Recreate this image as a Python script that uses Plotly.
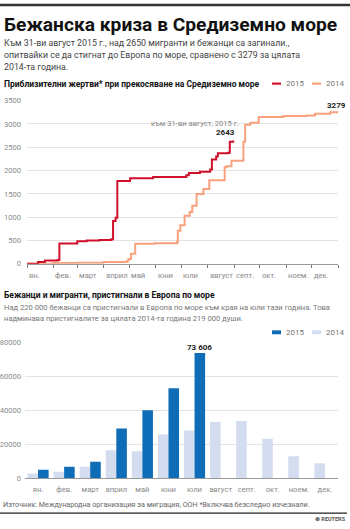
import plotly.graph_objects as go

# ---- data ----
months = ["ян.", "фев.", "март", "април", "май", "юни", "юли", "август", "септ.", "окт.", "ноем.", "дек."]
month_start_days = [0, 31, 59, 90, 120, 151, 181, 212, 243, 273, 304, 334]

days_2015 = [0, 13, 21, 36, 38, 59, 70, 85, 99, 101, 104, 106, 121, 148, 187, 190, 203, 215, 217, 222, 224, 236, 238, 242]
deaths_2015 = [0, 40, 70, 80, 434, 485, 500, 510, 527, 920, 990, 1777, 1834, 1861, 1897, 1946, 1973, 2024, 2235, 2304, 2374, 2380, 2620, 2643]

days_2014 = [0, 30, 60, 90, 117, 119, 122, 127, 150, 176, 177, 180, 185, 191, 194, 199, 207, 214, 232, 234, 240, 254, 256, 262, 272, 301, 328, 338, 356, 365]
deaths_2014 = [0, 15, 25, 40, 55, 105, 217, 428, 440, 464, 708, 828, 1033, 1109, 1244, 1497, 1602, 1792, 2072, 2093, 2213, 2620, 2985, 3027, 3147, 3168, 3183, 3217, 3253, 3279]

arrivals_2014 = [2900, 3900, 6900, 16500, 16000, 25800, 28100, 33200, 33800, 23300, 13100, 8900]
arrivals_2015 = [5200, 6900, 9800, 29400, 40000, 53000, 73606]

deaths_ticks = [0, 500, 1000, 1500, 2000, 2500, 3000, 3500]
arrivals_ticks = [0, 20000, 40000, 60000, 80000]

W, H = 350, 529
def px(x): return x / W
def py(y): return 1 - y / H

RED = "#d0112b"
ORANGE = "#f8a17c"
DARKBLUE = "#0f6cb6"
LIGHTBLUE = "#d3ddef"
GRID = "#e3e3e3"
TICK = "#8a8a8a"
FONT = "Roboto"

fig = go.Figure()
fig.add_trace(go.Scatter(x=days_2014, y=deaths_2014, mode="lines", line=dict(color=ORANGE, width=2, shape="hv"),
                         xaxis="x", yaxis="y", showlegend=False, hoverinfo="skip"))
fig.add_trace(go.Scatter(x=days_2015, y=deaths_2015, mode="lines", line=dict(color=RED, width=2, shape="hv"),
                         xaxis="x", yaxis="y", showlegend=False, hoverinfo="skip"))

fig.add_trace(go.Bar(x=months, y=arrivals_2014, marker=dict(color=LIGHTBLUE, line=dict(width=0)),
                     xaxis="x2", yaxis="y2", showlegend=False, hoverinfo="skip"))
fig.add_trace(go.Bar(x=months[:len(arrivals_2015)], y=arrivals_2015, marker=dict(color=DARKBLUE, line=dict(width=0)),
                     xaxis="x2", yaxis="y2", showlegend=False, hoverinfo="skip"))

annotations = []
def txt(x, y, s, size, color="#333", bold=False, anchor="left", xref="paper", yref="paper", yanchor="middle", xshift=0):
    annotations.append(dict(x=x, y=y, xref=xref, yref=yref, text=("<b>%s</b>" % s) if bold else s,
                            showarrow=False, xanchor=anchor, yanchor=yanchor, xshift=xshift,
                            font=dict(family=FONT, size=size, color=color)))

txt(px(2), py(21), "Бежанска криза в Средиземно море", 19.2, "#111", bold=True)
txt(px(2), py(40), "Към 31-ви август 2015 г., над 2650 мигранти и бежанци са загинали.,", 8.8, "#444")
txt(px(2), py(52), "опитвайки се да стигнат до Европа по море, сравнено с 3279 за цялата", 8.8, "#444")
txt(px(2), py(64), "2014-та година.", 8.8, "#444")
txt(px(2), py(81), "Приблизителни жертви* при прекосяване на Средиземно море", 8.5, "#111", bold=True)
txt(px(284), py(81), "2015", 8, "#777")
txt(px(324), py(81), "2014", 8, "#777")

# month labels (left aligned at ticks)
for m, d in zip(months, month_start_days):
    txt(d, py(276), m, 7.6, TICK, xref="x")

txt(px(241), py(122), "към 31-ви август, 2015 г.", 7.6, "#888", anchor="right")
txt(px(237), py(131), "2643", 8, "#222", bold=True, anchor="right")
txt(px(348), py(103), "3279", 8, "#222", bold=True, anchor="right")

txt(px(2), py(296), "Бежанци и мигранти, пристигнали в Европа по море", 8.5, "#111", bold=True)
txt(px(2), py(309), "Над 220 000 бежанци са пристигнали в Европа по море към края на юли тази година. Това", 7.6, "#777")
txt(px(2), py(320), "надминава пристигналите за цялата 2014-та година 219 000 души.", 7.6, "#777")
txt(px(284), py(334), "2015", 8, "#777")
txt(px(324), py(334), "2014", 8, "#777")
txt("юли", py(349), "73 606", 8, "#222", bold=True, anchor="center", xref="x2", xshift=5)

txt(px(1), py(509), "Източник: Международна организация за миграция, ООН *Включва безследно изчезнали.", 7.2, "#666")
txt(px(348), py(524), "⊛ REUTERS", 5.5, "#555", bold=True, anchor="right")

shapes = [
    dict(type="line", xref="paper", yref="paper", x0=0, x1=1, y0=py(1), y1=py(1), line=dict(color="#333", width=2.5)),
    dict(type="line", xref="paper", yref="paper", x0=0, x1=px(347), y0=py(518), y1=py(518), line=dict(color="#222", width=1.2)),
    dict(type="line", xref="paper", yref="paper", x0=px(272), x1=px(281), y0=py(81), y1=py(81), line=dict(color=RED, width=2.2)),
    dict(type="line", xref="paper", yref="paper", x0=px(312), x1=px(321), y0=py(81), y1=py(81), line=dict(color=ORANGE, width=2.2)),
    dict(type="rect", xref="paper", yref="paper", x0=px(272), x1=px(281), y0=py(336), y1=py(332), fillcolor=DARKBLUE, line=dict(width=0)),
    dict(type="rect", xref="paper", yref="paper", x0=px(312), x1=px(321), y0=py(336), y1=py(332), fillcolor=LIGHTBLUE, line=dict(width=0)),
]

fig.update_layout(
    width=W, height=H, margin=dict(l=0, r=0, t=0, b=0),
    paper_bgcolor="white", plot_bgcolor="white",
    barmode="group", bargap=0.19, bargroupgap=0,
    font=dict(family=FONT, size=8, color=TICK),
    annotations=annotations, shapes=shapes,
    xaxis=dict(domain=[px(27), px(338)], range=[0, 365], tickmode="array", tickvals=month_start_days + [365],
               showticklabels=False, ticks="outside", ticklen=3, tickcolor="#777", showgrid=False,
               zeroline=False, showline=True, linecolor="#999", linewidth=1, fixedrange=True),
    yaxis=dict(domain=[py(264.3), py(98.3)], range=[0, 3500], tickmode="array", tickvals=deaths_ticks,
               ticktext=[str(v) for v in deaths_ticks],
               showgrid=True, gridcolor=GRID, gridwidth=1, zeroline=False, ticks="", ticklabelstandoff=5,
               tickfont=dict(family=FONT, size=7.6, color=TICK), fixedrange=True),
    xaxis2=dict(domain=[px(25), px(338)], anchor="y2", type="category", showgrid=False, ticks="",
                tickfont=dict(family=FONT, size=7.6, color=TICK), showline=True, linecolor="#999", linewidth=1,
                ticklabelstandoff=3, fixedrange=True),
    yaxis2=dict(domain=[py(482.7), py(344)], anchor="x2", range=[0, 80000], tickmode="array", tickvals=arrivals_ticks,
                ticktext=[str(v) for v in arrivals_ticks],
                showgrid=True, gridcolor=GRID, zeroline=False, ticks="", ticklabelstandoff=3,
                tickfont=dict(family=FONT, size=7.6, color=TICK), fixedrange=True),
)

fig.write_html("out.html")
